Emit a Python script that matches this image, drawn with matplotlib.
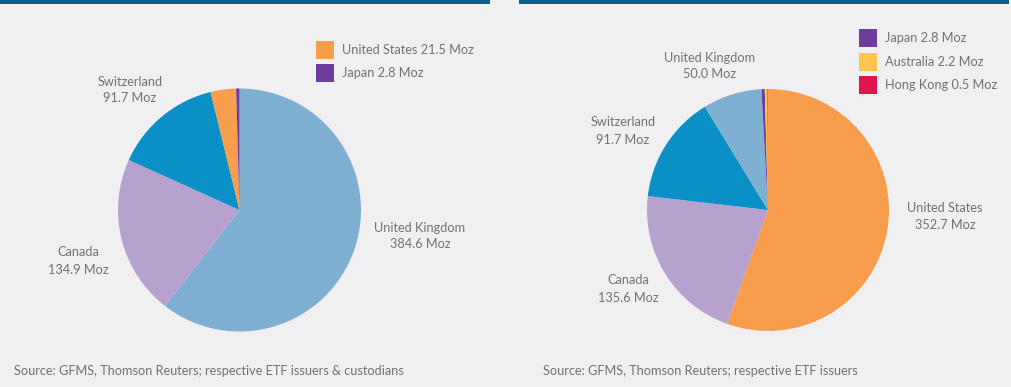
import matplotlib
matplotlib.use("Agg")
import matplotlib.pyplot as plt
from matplotlib.patches import Rectangle

plt.rcParams['font.family'] = ['Lato', 'DejaVu Sans']

# Left chart data (clockwise from top)
left_countries = ["United Kingdom", "Canada", "Switzerland", "United States", "Japan"]
left_values = [384.6, 134.9, 91.7, 21.5, 2.8]
left_source = "Source: GFMS, Thomson Reuters; respective ETF issuers & custodians"

# Right chart data (clockwise from top)
right_countries = ["United States", "Canada", "Switzerland", "United Kingdom", "Japan", "Australia", "Hong Kong"]
right_values = [352.7, 135.6, 91.7, 50.0, 2.8, 2.2, 0.5]
right_source = "Source: GFMS, Thomson Reuters; respective ETF issuers"

colors = {
    "United Kingdom": "#7fb0d1",
    "Canada": "#b7a1cf",
    "Switzerland": "#0a8fc6",
    "United States": "#f79d4b",
    "Japan": "#6e3c9c",
    "Australia": "#fdc54c",
    "Hong Kong": "#e0134d",
}

BG = "#f0f0f2"
TXT = "#727272"
W, H = 1011, 387
fig = plt.figure(figsize=(W / 100, H / 100), dpi=100, facecolor=BG)


def px_axes(x0, y0, x1, y1):
    return fig.add_axes([x0 / W, 1 - y1 / H, (x1 - x0) / W, (y1 - y0) / H])


# top rules
fig.add_artist(Rectangle((0 / W, 1 - 4 / H), 490 / W, 4 / H, transform=fig.transFigure,
                         color="#0b5f8c", lw=0))
fig.add_artist(Rectangle((519 / W, 1 - 4 / H), 490 / W, 4 / H, transform=fig.transFigure,
                         color="#0b5f8c", lw=0))


def draw_pie(cx, cy, r, countries, values):
    ax = px_axes(cx - r, cy - r, cx + r, cy + r)
    ax.pie(values, colors=[colors[c] for c in countries], startangle=90,
           counterclock=False, wedgeprops=dict(linewidth=0))
    ax.set_xlim(-1, 1)
    ax.set_ylim(-1, 1)
    ax.set_aspect('equal')
    ax.axis('off')
    return ax


draw_pie(239.5, 210, 121.5, left_countries, left_values)
draw_pie(768, 210, 121, right_countries, right_values)


def ftext(x, y, s, **kw):
    fig.text(x / W, 1 - y / H, s, color=TXT, fontsize=9.2, linespacing=1.5, **kw)


def lab(x, y, name, val):
    ftext(x, y, f"{name}\n{val:.1f} Moz", ha="center", va="center")


# left labels
lab(420, 236, left_countries[0], left_values[0])
lab(78, 261, left_countries[1], left_values[1])
lab(130, 90, left_countries[2], left_values[2])

# right labels
lab(945, 217, right_countries[0], right_values[0])
lab(628, 289, right_countries[1], right_values[1])
lab(623, 131, right_countries[2], right_values[2])
lab(710, 66, right_countries[3], right_values[3])


def legend(x, y0, step, items):
    for i, (name, val) in enumerate(items):
        y = y0 + i * step
        fig.add_artist(Rectangle((x / W, 1 - (y + 9) / H), 18 / W, 18 / H,
                                 transform=fig.transFigure, color=colors[name], lw=0))
        ftext(x + 26, y, f"{name} {val:.1f} Moz", ha="left", va="center")


legend(316, 50, 23, [(left_countries[3], left_values[3]), (left_countries[4], left_values[4])])
legend(859, 38, 23.5, [(right_countries[4], right_values[4]), (right_countries[5], right_values[5]),
                        (right_countries[6], right_values[6])])

ftext(14, 371, left_source, ha="left", va="center")
ftext(543, 371, right_source, ha="left", va="center")

fig.savefig("out.png", dpi=100, facecolor=BG)
